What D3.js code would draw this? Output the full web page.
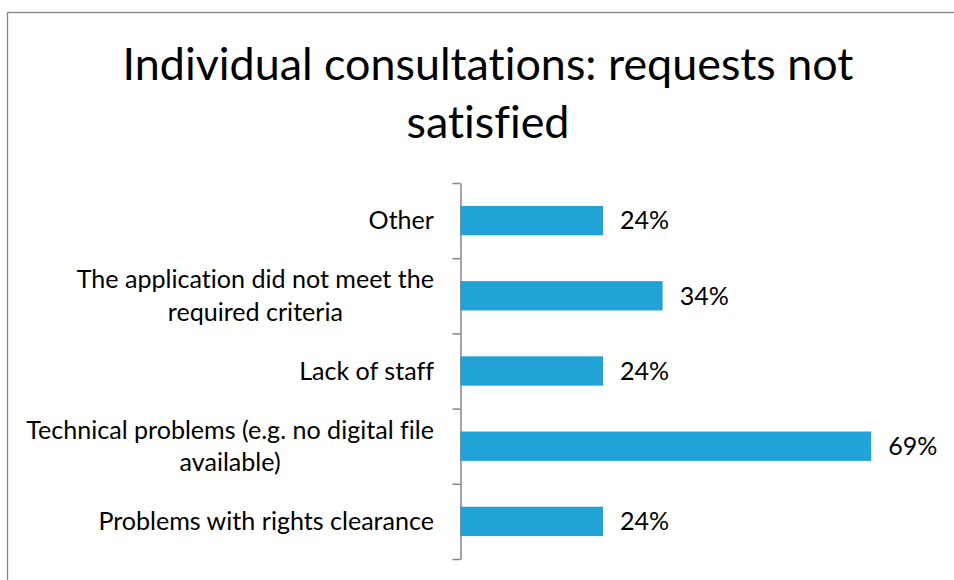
<!DOCTYPE html>
<html>
<head>
<meta charset="utf-8">
<script src="https://cdn.jsdelivr.net/npm/d3@7"></script>
<style>
  body { margin: 0; background: #fff; }
  svg { display: block; font-family: Lato, "Open Sans", sans-serif; font-variant-ligatures: none; }
</style>
</head>
<body>
<div id="chart"></div>
<script>
'use strict';

// Data, top to bottom
var categories = [
	"Other",
	"The application did not meet the required criteria",
	"Lack of staff",
	"Technical problems (e.g. no digital file available)",
	"Problems with rights clearance"
];
var labelLines = [
	["Other"],
	["The application did not meet the", "required criteria"],
	["Lack of staff"],
	["Technical problems (e.g. no digital file", "available)"],
	["Problems with rights clearance"]
];
var values = [24, 34, 24, 69, 24];
var titleLines = ["Individual consultations: requests not", "satisfied"];

var width = 954, height = 580;
var margin = {top: 183, left: 460, bottom: 21};
var barColor = "#22a3d7";
var axisColor = "#868686";

var svg = d3.select("#chart").append("svg")
	.attr("width", width)
	.attr("height", height);

// chart frame (runs past the right and bottom edges)
svg.append("rect")
	.attr("x", 7.5)
	.attr("y", 12.5)
	.attr("width", 1000)
	.attr("height", 700)
	.attr("fill", "#fff")
	.attr("stroke", axisColor)
	.attr("stroke-width", 1.3);

// fits a font size so that a text node spans the wanted width
function fitSize(sel, wanted, start) {
	sel.style("font-size", start + "px");
	var w = sel.node().getComputedTextLength();
	var size = start * wanted / w;
	sel.style("font-size", size + "px");
	return size;
}

// Title
var title = svg.append("g").attr("class", "title");
var t1 = title.append("text")
	.attr("x", 488)
	.attr("y", 80)
	.attr("text-anchor", "middle")
	.attr("fill", "#000")
	.text(titleLines[0]);
var titleSize = fitSize(t1, 731, 40);
title.append("text")
	.attr("x", 488)
	.attr("y", 138)
	.attr("text-anchor", "middle")
	.attr("fill", "#000")
	.style("font-size", titleSize + "px")
	.text(titleLines[1]);

// Scales
var y = d3.scaleBand()
	.domain(categories)
	.range([margin.top, height - margin.bottom])
	.paddingInner(0.61)
	.paddingOuter(0.305);

var yEdges = d3.scaleLinear()
	.domain([0, categories.length])
	.range([margin.top, height - margin.bottom]);

var x = d3.scaleLinear()
	.domain([0, 100])
	.range([margin.left, margin.left + 596]);

// Bars
svg.append("g")
	.attr("class", "bars")
	.selectAll("rect")
	.data(values)
	.enter().append("rect")
		.attr("x", x(0))
		.attr("y", function(d, i) { return y(categories[i]); })
		.attr("width", function(d) { return x(d) - x(0); })
		.attr("height", y.bandwidth())
		.attr("fill", barColor);

// Axis with ticks between the categories
var yAxis = d3.axisLeft(yEdges)
	.tickValues(d3.range(categories.length + 1))
	.tickSize(8)
	.tickSizeOuter(0)
	.tickFormat("");
var axisG = svg.append("g")
	.attr("class", "y axis")
	.attr("transform", "translate(" + (x(0) + 0.5) + ",0)")
	.call(yAxis);
axisG.selectAll("path, line")
	.attr("stroke", axisColor)
	.attr("stroke-width", 1.5);

// Category labels: block right aligned, lines centred inside the block
var probe = svg.append("text").text(labelLines[3][0]);
var labelSize = fitSize(probe, 408, 20);
probe.remove();
var lineGap = labelSize * 1.3;
var labelRight = 434;

var labels = svg.append("g").attr("class", "labels")
	.style("font-size", labelSize + "px")
	.attr("fill", "#000");
labelLines.forEach(function(lines, i) {
	var cy = y(categories[i]) + y.bandwidth() / 2;
	var g = labels.append("g");
	var texts = g.selectAll("text")
		.data(lines)
		.enter().append("text")
			.attr("text-anchor", "middle")
			.attr("dy", "0.35em")
			.attr("y", function(d, j) { return cy + (j - (lines.length - 1) / 2) * lineGap; })
			.text(function(d) { return d; });
	var blockW = d3.max(texts.nodes(), function(n) { return n.getComputedTextLength(); });
	texts.attr("x", labelRight - blockW / 2);
});

// Value labels
svg.append("g")
	.attr("class", "values")
	.style("font-size", labelSize + "px")
	.selectAll("text")
	.data(values)
	.enter().append("text")
		.attr("x", function(d) { return x(d) + 17; })
		.attr("y", function(d, i) { return y(categories[i]) + y.bandwidth() / 2; })
		.attr("dy", "0.35em")
		.attr("fill", "#000")
		.text(function(d) { return d + "%"; });
</script>
</body>
</html>
